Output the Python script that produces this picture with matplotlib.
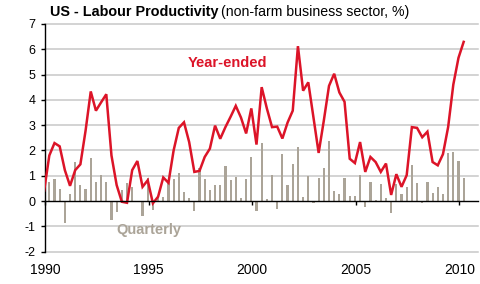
import matplotlib
matplotlib.use("Agg")
import matplotlib.pyplot as plt
import numpy as np

plt.rcParams['font.family'] = ['Liberation Sans', 'DejaVu Sans']
plt.rcParams['axes.unicode_minus'] = False

# Quarterly data; line starts 1989Q4 (clipped at axis), bars start 1990Q1
line_start = (1989, 4)
line_vals = [0.41,
             1.80, 2.29, 2.16, 1.22,
             0.60, 1.22, 1.45, 2.78,
             4.33, 3.57, 3.90, 4.22,
             1.80, 0.63, -0.03, -0.07,
             1.22, 1.58, 0.56, 0.82,
             -0.09, 0.17, 0.93, 0.72,
             2.00, 2.89, 3.11, 2.33,
             1.15, 1.19, 1.74, 2.07,
             2.98, 2.46, 2.92, 3.33,
             3.76, 3.30, 2.67, 3.66,
             2.23, 4.50, 3.66, 2.92,
             2.94, 2.47, 3.10, 3.57,
             6.12, 4.36, 4.69, 3.30,
             1.90, 3.18, 4.55, 5.03,
             4.29, 3.92, 1.67, 1.50,
             2.33, 1.15, 1.74, 1.54,
             1.15, 1.48, 0.24, 1.06,
             0.56, 1.02, 2.92, 2.89,
             2.52, 2.74, 1.54, 1.41,
             1.85, 2.92, 4.60, 5.66,
             6.29]

bar_start = (1990, 1)
bar_vals = [0.77, 0.86, 0.47, -0.88,
            0.27, 1.53, 0.63, 0.47,
            1.69, 0.77, 1.02, 0.77,
            -0.75, -0.44, 0.42, 0.72,
            0.56, -0.05, -0.59, 0.92,
            -0.35, 0.15, 0.17, 0.78,
            0.86, 1.12, 0.37, 0.11,
            -0.38, 1.30, 0.86, 0.42,
            0.63, 0.63, 1.38, 0.82,
            0.96, 0.11, 0.86, 1.75,
            -0.38, 2.28, 0.08, 1.01,
            -0.33, 1.84, 0.63, 1.45,
            2.13, 0.15, 0.98, -0.08,
            0.92, 1.32, 2.39, 0.41,
            0.27, 0.92, 0.21, 0.21,
            1.02, -0.22, 0.76, 0.03,
            0.67, 0.10, -0.47, 0.69,
            0.27, 0.56, 1.44, 0.72,
            -0.09, 0.77, 0.30, 0.56,
            0.27, 1.90, 1.93, 1.58,
            0.92]

year_ticks = [1990, 1995, 2000, 2005, 2010]
y_ticks = [-2, -1, 0, 1, 2, 3, 4, 5, 6, 7]


def quarter_positions(start, n):
    y, q = start
    out = []
    for i in range(n):
        qq = q - 1 + i
        yr = y + qq // 4
        qn = qq % 4 + 1
        out.append(yr + (3 * qn - 0.5) / 12.0)
    return np.array(out)


x_line = quarter_positions(line_start, len(line_vals))
x_bar = quarter_positions(bar_start, len(bar_vals))

RED = '#DC1428'
GREY = '#ABA498'

fig = plt.figure(figsize=(4.8, 2.84), dpi=100)
ax = fig.add_axes([45 / 480, 1 - 251.6 / 284, 433 / 480, (251.6 - 23.9) / 284])

ax.set_xlim(1990, 2010.9)
ax.set_ylim(-2, 7)

for yv in y_ticks:
    if yv != 0:
        ax.axhline(yv, color='#C8C8C8', lw=1.1, zorder=0, clip_on=False)

ax.bar(x_bar, bar_vals, width=0.105, color=GREY, zorder=2)
ax.plot(x_line, line_vals, color=RED, lw=1.8, zorder=3, solid_joinstyle='miter')

ax.spines['top'].set_visible(False)
ax.spines['right'].set_visible(False)
ax.spines['bottom'].set_position(('data', 0))
ax.spines['bottom'].set_linewidth(1.0)
ax.spines['bottom'].set_zorder(4)
ax.spines['left'].set_linewidth(1.0)

ax.set_yticks(y_ticks)
ax.set_xticks(year_ticks)
ax.set_xticklabels([str(y) for y in year_ticks])
ax.tick_params(axis='y', direction='out', length=3, width=1, pad=4, labelsize=9)
ax.tick_params(axis='x', direction='out', length=3, width=1, pad=42, labelsize=10)

ax.text(1998.83, 5.47, 'Year-ended', color=RED, fontsize=10.5, fontweight='bold',
        ha='center', va='center')
ax.text(1995.0, -1.16, 'Quarterly', color=GREY, fontsize=10.5, fontweight='bold',
        ha='center', va='center')

t1 = fig.text(50 / 480, 1 - 12 / 284, 'US - Labour Productivity', fontsize=10.4,
              fontweight='bold', ha='left', va='center')
ax.annotate('(non-farm business sector, %)', xy=(1, 0.5), xycoords=t1,
            xytext=(2, 0), textcoords='offset points', fontsize=10.2,
            ha='left', va='center', annotation_clip=False)

fig.savefig('out.png', dpi=100)
